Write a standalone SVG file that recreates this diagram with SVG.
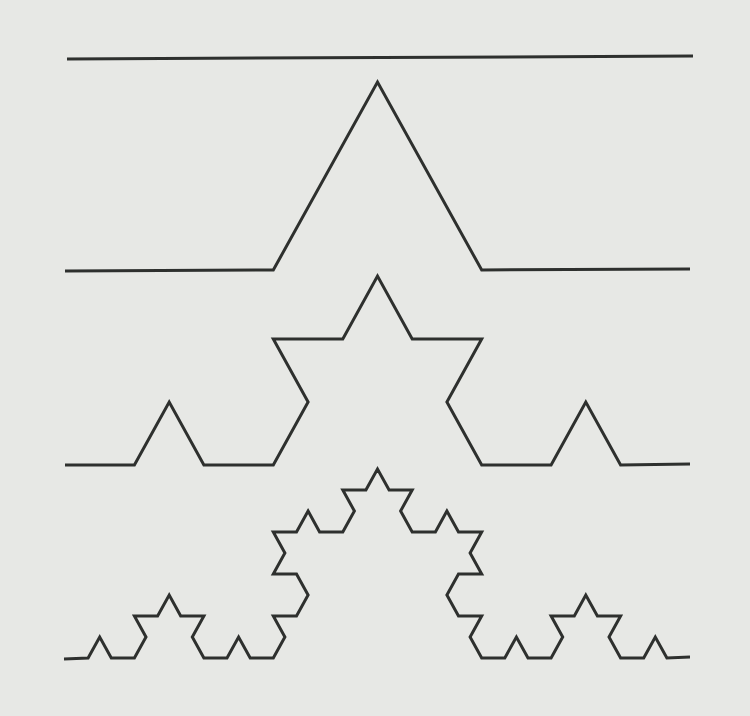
<svg xmlns="http://www.w3.org/2000/svg" width="750" height="716" viewBox="0 0 750 716">
<style>
.k{fill:none;stroke:#2e302e;stroke-width:3;stroke-linejoin:miter;stroke-linecap:butt}
</style>
<rect width="750" height="716" fill="#e7e8e5"/>
<g id="koch0"><polyline class="k" points="67,59 693,56"/></g>
<g id="koch1"><polyline class="k" points="65,271 273.3,270 377.5,82 481.7,270 690,269"/></g>
<g id="koch2"><polyline class="k" points="65,465 134.4,465 169.2,402 203.9,465 273.3,465 308.1,402 273.3,339 342.8,339 377.5,276 412.2,339 481.7,339 446.9,402 481.7,465 551.1,465 585.8,402 620.6,465 690,464"/></g>
<g id="koch3"><polyline class="k" points="64,659 88.1,658 99.7,637 111.3,658 134.4,658 146,637 134.4,616 157.6,616 169.2,595 180.7,616 203.9,616 192.3,637 203.9,658 227,658 238.6,637 250.2,658 273.3,658 284.9,637 273.3,616 296.5,616 308.1,595 296.5,574 273.3,574 284.9,553 273.3,532 296.5,532 308.1,511 319.6,532 342.8,532 354.4,511 342.8,490 365.9,490 377.5,469 389.1,490 412.2,490 400.6,511 412.2,532 435.4,532 446.9,511 458.5,532 481.7,532 470.1,553 481.7,574 458.5,574 446.9,595 458.5,616 481.7,616 470.1,637 481.7,658 504.8,658 516.4,637 528,658 551.1,658 562.7,637 551.1,616 574.3,616 585.8,595 597.4,616 620.6,616 609,637 620.6,658 643.7,658 655.3,637 666.9,658 690,657"/></g>
</svg>
